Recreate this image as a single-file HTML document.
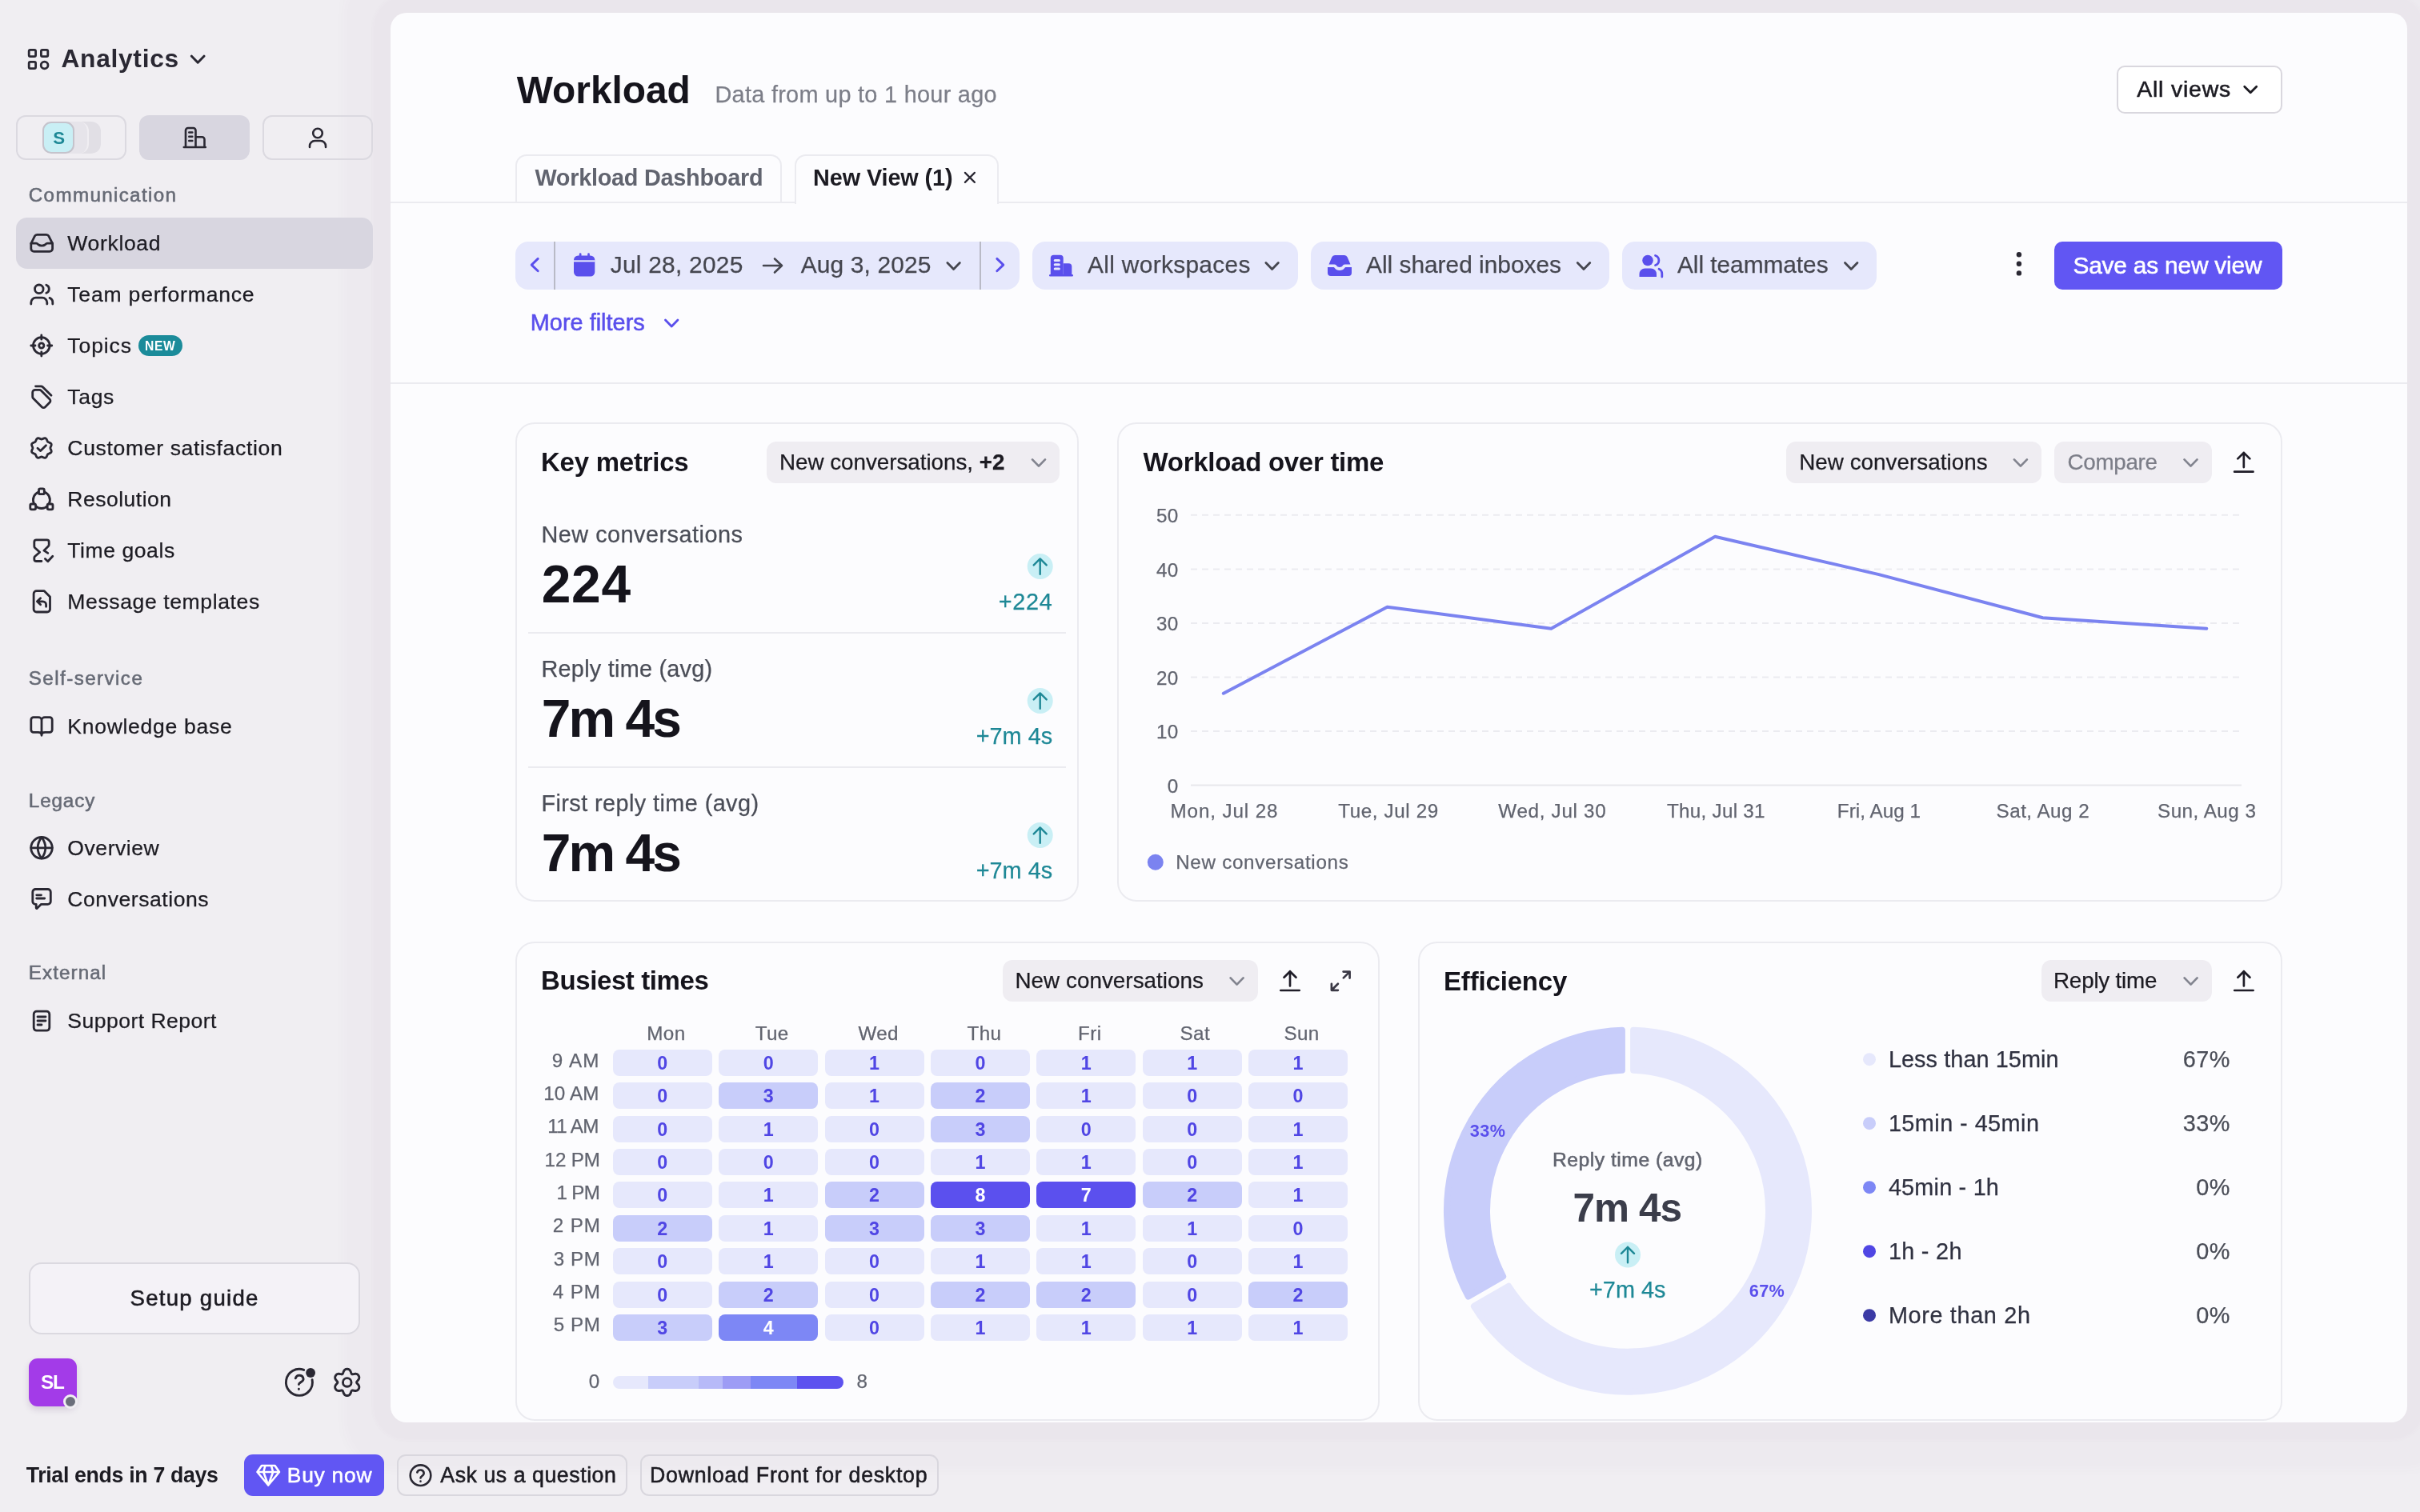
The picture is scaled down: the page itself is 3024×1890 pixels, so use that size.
<!DOCTYPE html>
<html lang="en"><head><meta charset="utf-8"><title>Workload - Analytics</title>
<style>
*{box-sizing:border-box;margin:0;padding:0}
html,body{width:3024px;height:1890px;overflow:hidden}
body{background:#f0eef2;font-family:"Liberation Sans",sans-serif;color:#1c1b22;position:relative}
.root{position:absolute;left:0;top:0;width:3024px;height:1890px;will-change:transform}
.a{position:absolute}
.t{position:absolute;white-space:nowrap}
.main{left:488px;top:16px;width:2520px;height:1761.7px;background:#fcfcfe;border-radius:20px;box-shadow:0 0 5px 23px rgba(80,75,100,.02),0 0 14px 60px rgba(80,75,100,.018)}
.card{border:2px solid #ebebf0;border-radius:24px;background:#fcfcfe}
.dd{background:#efedf2;border-radius:12px}
.pill{background:#e6e8fc;border-radius:16px}
.hl{background:#ebebf0;height:2px}
.cell{position:absolute;width:124px;height:33px;border-radius:8px;text-align:center;font-weight:700;font-size:23.3px;line-height:34px;color:#5046e4}
.c0{background:#e6e8fc}.c2{background:#c8cdfa}.c4{background:#7d87f5;color:#fff}.c8{background:#5b50ee;color:#fff}
svg{position:absolute;overflow:visible}
</style></head>
<body>
<div class="root">

<div class="a main"></div>
<!-- sidebar -->
<div class="a" style="left:20px;top:144px;width:138px;height:55.5px;border:2px solid #dbd9e0;border-radius:12px"></div>
<div class="a" style="left:174px;top:144px;width:138px;height:55.5px;background:#d8d6e0;border-radius:12px"></div>
<div class="a" style="left:328px;top:144px;width:138px;height:55.5px;border:2px solid #dbd9e0;border-radius:12px"></div>
<div class="a" style="left:86px;top:152px;width:40px;height:40px;background:#e1dfe5;border-radius:12px"></div>
<div class="a" style="left:68px;top:152px;width:43px;height:40px;background:#e6e4ea;border-radius:12px;border-right:2px solid #f0eef2"></div>
<div class="a" style="left:53px;top:152px;width:40px;height:40px;background:#c9eff5;border:2px solid #c5c3cc;border-radius:11px"></div>
<div class="a" style="left:20px;top:272px;width:446px;height:64px;background:#d8d6e0;border-radius:14px"></div>
<div class="a" style="left:173px;top:419px;width:55px;height:26px;background:#1b8b9a;border-radius:13px"></div>
<div class="a" style="left:36px;top:1578px;width:413.5px;height:89.5px;border:2px solid #dbd9e0;border-radius:16px;background:#f4f2f7"></div>
<div class="a" style="left:36px;top:1698px;width:60px;height:60px;background:#a33be8;border-radius:11px;box-shadow:0 4px 8px rgba(60,20,90,.15)"></div>
<div class="a" style="left:79px;top:1743px;width:18px;height:18px;background:#6b6e7b;border:3px solid #f0eef2;border-radius:50%"></div>
<!-- bottom bar -->
<div class="a" style="left:305px;top:1818.3px;width:175px;height:51.8px;background:#6156f3;border-radius:11px"></div>
<div class="a" style="left:496px;top:1818.3px;width:288px;height:51.8px;border:2px solid #d9d7de;border-radius:11px"></div>
<div class="a" style="left:800px;top:1818.3px;width:373px;height:51.8px;border:2px solid #d9d7de;border-radius:11px"></div>
<!-- header -->
<div class="a" style="left:2645px;top:82px;width:207px;height:60px;border:2px solid #d9d7de;border-radius:10px;background:#fff"></div>
<div class="a hl" style="left:488px;top:252px;width:2520px"></div>
<div class="a" style="left:644px;top:192.5px;width:333px;height:61.5px;border:2px solid #ebebf0;border-bottom:none;border-radius:14px 14px 0 0"></div>
<div class="a" style="left:993px;top:192.5px;width:255px;height:62.5px;border:2px solid #ebebf0;border-bottom:none;border-radius:14px 14px 0 0;background:#fcfcfe"></div>
<div class="a pill" style="left:644px;top:302px;width:630px;height:60px"></div>
<div class="a" style="left:692px;top:302px;width:2px;height:60px;background:#b9bac6"></div>
<div class="a" style="left:1224px;top:302px;width:2px;height:60px;background:#b9bac6"></div>
<div class="a pill" style="left:1290px;top:302px;width:332px;height:60px"></div>
<div class="a pill" style="left:1638px;top:302px;width:373px;height:60px"></div>
<div class="a pill" style="left:2027px;top:302px;width:318px;height:60px"></div>
<div class="a" style="left:2567px;top:302px;width:285px;height:60px;background:#6156f3;border-radius:10px"></div>
<div class="a hl" style="left:488px;top:478px;width:2520px"></div>
<!-- cards -->
<div class="a card" style="left:644px;top:528px;width:704px;height:599px"></div>
<div class="a dd" style="left:958px;top:552px;width:366px;height:52px"></div>
<div class="a hl" style="left:660px;top:790px;width:672px"></div>
<div class="a hl" style="left:660px;top:958px;width:672px"></div>
<div class="a card" style="left:1396px;top:528px;width:1456px;height:599px"></div>
<div class="a dd" style="left:2232px;top:552px;width:319px;height:52px"></div>
<div class="a dd" style="left:2567px;top:552px;width:197px;height:52px"></div>
<div class="a card" style="left:644px;top:1176.5px;width:1080px;height:599px"></div>
<div class="a dd" style="left:1253px;top:1200px;width:319px;height:52px"></div>
<div class="a card" style="left:1772px;top:1176.5px;width:1080px;height:599px"></div>
<div class="a dd" style="left:2551px;top:1200px;width:213px;height:52px"></div>

<svg class="a" style="left:0;top:0" width="3024" height="1890" viewBox="0 0 3024 1890">
<line x1="1488" x2="2801" y1="643.8" y2="643.8" stroke="#ebebf0" stroke-width="2" stroke-dasharray="8 6"/>
<line x1="1488" x2="2801" y1="711.4" y2="711.4" stroke="#ebebf0" stroke-width="2" stroke-dasharray="8 6"/>
<line x1="1488" x2="2801" y1="778.9" y2="778.9" stroke="#ebebf0" stroke-width="2" stroke-dasharray="8 6"/>
<line x1="1488" x2="2801" y1="846.5" y2="846.5" stroke="#ebebf0" stroke-width="2" stroke-dasharray="8 6"/>
<line x1="1488" x2="2801" y1="914.0" y2="914.0" stroke="#ebebf0" stroke-width="2" stroke-dasharray="8 6"/>
<line x1="1488" x2="2801" y1="981.6" y2="981.6" stroke="#e7e7ec" stroke-width="2"/>
<polyline points="1528.8,866.7 1733.5,758.7 1938.3,785.7 2143.1,670.8 2347.8,718.1 2552.6,772.2 2757.3,785.7" fill="none" stroke="#7b83f0" stroke-width="4" stroke-linejoin="round" stroke-linecap="round"/>
<circle cx="1443.8" cy="1077.7" r="10" fill="#7b83f0"/>
</svg>
<svg class="a" style="left:0;top:0" width="3024" height="1890" viewBox="0 0 3024 1890">
<path d="M2041.1 1287.8A226.0 226.0 0 1 1 1841.9 1632.8L1885.3 1607.8A176.0 176.0 0 1 0 2041.1 1337.8Z" fill="#e6e8fc" stroke="#e6e8fc" stroke-width="8" stroke-linejoin="round"/>
<path d="M1834.8 1620.5A226.0 226.0 0 0 1 2026.9 1287.8L2026.9 1337.8A176.0 176.0 0 0 0 1878.2 1595.5Z" fill="#c8cdfa" stroke="#c8cdfa" stroke-width="8" stroke-linejoin="round"/>
<circle cx="2336" cy="1324.2" r="8" fill="#e6e8fc"/>
<circle cx="2336" cy="1404.2" r="8" fill="#c8cdfa"/>
<circle cx="2336" cy="1484.2" r="8" fill="#7d87f5"/>
<circle cx="2336" cy="1564.2" r="8" fill="#5046e4"/>
<circle cx="2336" cy="1644.2" r="8" fill="#3b3aa5"/>
</svg>
<div class="cell c0" style="left:765.8px;top:1312.0px">0</div>
<div class="cell c0" style="left:898.2px;top:1312.0px">0</div>
<div class="cell c0" style="left:1030.5px;top:1312.0px">1</div>
<div class="cell c0" style="left:1162.9px;top:1312.0px">0</div>
<div class="cell c0" style="left:1295.3px;top:1312.0px">1</div>
<div class="cell c0" style="left:1427.7px;top:1312.0px">1</div>
<div class="cell c0" style="left:1560.0px;top:1312.0px">1</div>
<div class="cell c0" style="left:765.8px;top:1353.4px">0</div>
<div class="cell c2" style="left:898.2px;top:1353.4px">3</div>
<div class="cell c0" style="left:1030.5px;top:1353.4px">1</div>
<div class="cell c2" style="left:1162.9px;top:1353.4px">2</div>
<div class="cell c0" style="left:1295.3px;top:1353.4px">1</div>
<div class="cell c0" style="left:1427.7px;top:1353.4px">0</div>
<div class="cell c0" style="left:1560.0px;top:1353.4px">0</div>
<div class="cell c0" style="left:765.8px;top:1394.7px">0</div>
<div class="cell c0" style="left:898.2px;top:1394.7px">1</div>
<div class="cell c0" style="left:1030.5px;top:1394.7px">0</div>
<div class="cell c2" style="left:1162.9px;top:1394.7px">3</div>
<div class="cell c0" style="left:1295.3px;top:1394.7px">0</div>
<div class="cell c0" style="left:1427.7px;top:1394.7px">0</div>
<div class="cell c0" style="left:1560.0px;top:1394.7px">1</div>
<div class="cell c0" style="left:765.8px;top:1436.1px">0</div>
<div class="cell c0" style="left:898.2px;top:1436.1px">0</div>
<div class="cell c0" style="left:1030.5px;top:1436.1px">0</div>
<div class="cell c0" style="left:1162.9px;top:1436.1px">1</div>
<div class="cell c0" style="left:1295.3px;top:1436.1px">1</div>
<div class="cell c0" style="left:1427.7px;top:1436.1px">0</div>
<div class="cell c0" style="left:1560.0px;top:1436.1px">1</div>
<div class="cell c0" style="left:765.8px;top:1477.4px">0</div>
<div class="cell c0" style="left:898.2px;top:1477.4px">1</div>
<div class="cell c2" style="left:1030.5px;top:1477.4px">2</div>
<div class="cell c8" style="left:1162.9px;top:1477.4px">8</div>
<div class="cell c8" style="left:1295.3px;top:1477.4px">7</div>
<div class="cell c2" style="left:1427.7px;top:1477.4px">2</div>
<div class="cell c0" style="left:1560.0px;top:1477.4px">1</div>
<div class="cell c2" style="left:765.8px;top:1518.8px">2</div>
<div class="cell c0" style="left:898.2px;top:1518.8px">1</div>
<div class="cell c2" style="left:1030.5px;top:1518.8px">3</div>
<div class="cell c2" style="left:1162.9px;top:1518.8px">3</div>
<div class="cell c0" style="left:1295.3px;top:1518.8px">1</div>
<div class="cell c0" style="left:1427.7px;top:1518.8px">1</div>
<div class="cell c0" style="left:1560.0px;top:1518.8px">0</div>
<div class="cell c0" style="left:765.8px;top:1560.2px">0</div>
<div class="cell c0" style="left:898.2px;top:1560.2px">1</div>
<div class="cell c0" style="left:1030.5px;top:1560.2px">0</div>
<div class="cell c0" style="left:1162.9px;top:1560.2px">1</div>
<div class="cell c0" style="left:1295.3px;top:1560.2px">1</div>
<div class="cell c0" style="left:1427.7px;top:1560.2px">0</div>
<div class="cell c0" style="left:1560.0px;top:1560.2px">1</div>
<div class="cell c0" style="left:765.8px;top:1601.5px">0</div>
<div class="cell c2" style="left:898.2px;top:1601.5px">2</div>
<div class="cell c0" style="left:1030.5px;top:1601.5px">0</div>
<div class="cell c2" style="left:1162.9px;top:1601.5px">2</div>
<div class="cell c2" style="left:1295.3px;top:1601.5px">2</div>
<div class="cell c0" style="left:1427.7px;top:1601.5px">0</div>
<div class="cell c2" style="left:1560.0px;top:1601.5px">2</div>
<div class="cell c2" style="left:765.8px;top:1642.9px">3</div>
<div class="cell c4" style="left:898.2px;top:1642.9px">4</div>
<div class="cell c0" style="left:1030.5px;top:1642.9px">0</div>
<div class="cell c0" style="left:1162.9px;top:1642.9px">1</div>
<div class="cell c0" style="left:1295.3px;top:1642.9px">1</div>
<div class="cell c0" style="left:1427.7px;top:1642.9px">1</div>
<div class="cell c0" style="left:1560.0px;top:1642.9px">1</div>
<div class="a" style="left:766px;top:1720px;width:288px;height:16px;border-radius:8px;background:linear-gradient(90deg,#e6e8fc 0 15.3%,#c8cdfa 15.3% 37%,#b7baf8 37% 47.4%,#9d9cf5 47.4% 59.8%,#7d87f5 59.8% 80%,#5d52ef 80% 100%)"></div>
<svg class="a" style="left:0;top:0" width="3024" height="1890" viewBox="0 0 3024 1890"><g fill="none" stroke="#2a2833" stroke-width="2.8" stroke-linecap="round" stroke-linejoin="round" ><rect x="36.2" y="62.3" width="8.4" height="8.4" rx="1.6"/><rect x="51.4" y="62.3" width="8.4" height="8.4" rx="1.6"/><rect x="36.2" y="77.3" width="8.4" height="8.4" rx="1.6"/><circle cx="55.6" cy="81.5" r="4.4"/></g>
<path d="M239.45 70.2L247.2 78.2L254.95 70.2" fill="none" stroke="#2a2833" stroke-width="3" stroke-linecap="round" stroke-linejoin="round" />
<g fill="none" stroke="#2a2833" stroke-width="2.6" stroke-linecap="round" stroke-linejoin="round" ><path d="M232 184V163a3 3 0 0 1 3-3h6.5a3 3 0 0 1 3 3v21M244.5 171.2h8a3 3 0 0 1 3 3V184M229.8 184h27M236.3 165.5h4M236.3 170.8h4M236.3 176h4"/></g>
<g fill="none" stroke="#2a2833" stroke-width="2.6" stroke-linecap="round" stroke-linejoin="round" ><circle cx="397" cy="166.5" r="5.8"/><path d="M387 184v-1.5a6.5 6.5 0 0 1 6.5-6.5h7a6.5 6.5 0 0 1 6.5 6.5V184"/></g>
<g fill="none" stroke="#2a2833" stroke-width="2.8" stroke-linecap="round" stroke-linejoin="round" ><path d="M38.8 304.5l4.6-9.3a3.4 3.4 0 0 1 3-1.9h11.5a3.4 3.4 0 0 1 3 1.9l4.7 9.3v6.2a3.6 3.6 0 0 1-3.6 3.6H42.4a3.6 3.6 0 0 1-3.6-3.6z"/><path d="M38.8 304.2h6.4c1.3 0 1.8 .6 2.6 1.4 1 .9 2 1.5 4.4 1.5s3.400-.6 4.400-1.500c.8-.8 1.300-1.400 2.600-1.400h6.400"/></g>
<g fill="none" stroke="#2a2833" stroke-width="2.8" stroke-linecap="round" stroke-linejoin="round" ><circle cx="48.8" cy="361.3" r="5.3"/><path d="M38.8 380v-1.8a6 6 0 0 1 6-6h8a6 6 0 0 1 6 6V380"/><path d="M57.8 356.300a5.300 5.300 0 0 1 0 10M62 372.400a6 6 0 0 1 3.800 5.600V380"/></g>
<g fill="none" stroke="#2a2833" stroke-width="2.8" stroke-linecap="round" stroke-linejoin="round" ><circle cx="51.800" cy="432" r="10.3"/><circle cx="51.800" cy="432" r="3.100"/><path d="M51.800 419v5.200M51.800 439.800v5.200M38.800 432h5.200M59.600 432h5.200"/></g>
<g fill="none" stroke="#2a2833" stroke-width="2.8" stroke-linecap="round" stroke-linejoin="round" ><g transform="translate(0.4 2.2)"><path d="M40.300 488.300v5.400a3 3 0 0 0 .9 2.100l10.700 10.700a3 3 0 0 0 4.200 0l5.600-5.600a3 3 0 0 0 0-4.200L51 486a3 3 0 0 0-2.100-.9h-5.400a3.200 3.200 0 0 0-3.200 3.200z"/></g><path d="M44.500 482.800h6.800a3 3 0 0 1 2.100 .9l10.600 10.600"/></g>
<g fill="none" stroke="#2a2833" stroke-width="2.8" stroke-linecap="round" stroke-linejoin="round" ><path d="M62.9 560.0L63.0 560.6L63.2 561.2L63.5 561.8L63.8 562.5L64.1 563.3L64.2 564.0L64.2 564.7L63.9 565.3L63.4 565.9L62.8 566.3L62.1 566.6L61.4 566.9L60.8 567.2L60.2 567.5L59.7 567.8L59.4 568.3L59.1 568.9L58.8 569.5L58.5 570.2L58.2 570.9L57.8 571.5L57.2 572.0L56.6 572.3L55.9 572.3L55.2 572.2L54.4 571.9L53.7 571.6L53.1 571.3L52.5 571.1L51.9 571.0L51.3 571.1L50.7 571.3L50.1 571.6L49.4 571.9L48.6 572.2L47.9 572.3L47.2 572.3L46.6 572.0L46.0 571.5L45.6 570.9L45.3 570.2L45.0 569.5L44.7 568.9L44.4 568.3L44.1 567.8L43.6 567.5L43.0 567.2L42.4 566.9L41.7 566.6L41.0 566.3L40.4 565.9L39.9 565.3L39.6 564.7L39.6 564.0L39.7 563.3L40.0 562.5L40.3 561.8L40.6 561.2L40.8 560.6L40.9 560.0L40.8 559.4L40.6 558.8L40.3 558.2L40.0 557.5L39.7 556.7L39.6 556.0L39.6 555.3L39.9 554.7L40.4 554.1L41.0 553.7L41.7 553.4L42.4 553.1L43.0 552.8L43.6 552.5L44.1 552.2L44.4 551.7L44.7 551.1L45.0 550.5L45.3 549.8L45.6 549.1L46.0 548.5L46.6 548.0L47.2 547.7L47.9 547.7L48.6 547.8L49.4 548.1L50.1 548.4L50.7 548.7L51.3 548.9L51.9 549.0L52.5 548.9L53.1 548.7L53.7 548.4L54.4 548.1L55.2 547.8L55.9 547.7L56.6 547.7L57.2 548.0L57.8 548.5L58.2 549.1L58.5 549.8L58.8 550.5L59.1 551.1L59.4 551.7L59.7 552.2L60.2 552.5L60.8 552.8L61.4 553.1L62.1 553.4L62.8 553.7L63.4 554.1L63.9 554.7L64.2 555.3L64.2 556.0L64.1 556.7L63.8 557.5L63.5 558.2L63.2 558.8L63.0 559.4Z"/><path d="M47 560.3l3.700 3.300 6.800-6.900"/></g>
<g fill="none" stroke="#2a2833" stroke-width="2.8" stroke-linecap="round" stroke-linejoin="round" ><circle cx="51.9" cy="625" r="10.5"/><g fill="#f0eef2"><rect x="48.5" y="610.9" width="6.8" height="6.8" rx="1.8"/><rect x="37.8" y="630" width="6.8" height="6.8" rx="1.8"/><rect x="59.2" y="630" width="6.8" height="6.8" rx="1.8"/></g></g>
<g fill="none" stroke="#2a2833" stroke-width="2.8" stroke-linecap="round" stroke-linejoin="round" ><path d="M51.9 701.5H45.400a2.600 2.600 0 0 1-2.600-2.600v-1.600a2.600 2.600 0 0 1 .8-1.800l6.100-5.300-6.100-5.500a2.600 2.600 0 0 1-.8-1.800V677.400a2.600 2.600 0 0 1 2.600-2.600H58.600a2.600 2.600 0 0 1 2.600 2.600v3.500a2.600 2.600 0 0 1-.8 1.800l-5.500 5.500 4.900 3.200"/><path d="M56.400 698.500l3.400 3.200 6-6.500"/></g>
<g fill="none" stroke="#2a2833" stroke-width="2.8" stroke-linecap="round" stroke-linejoin="round" ><path d="M42.100 742.300a3.600 3.600 0 0 1 3.600-3.600h9.600l7.200 7.200v15.500a3.600 3.600 0 0 1-3.600 3.600H45.700a3.600 3.600 0 0 1-3.600-3.600z"/><path d="M50.600 747.800l-4.200 4 4.200 4M46.600 751.800h6.800a4.200 4.200 0 0 1 4.200 4.200v2.300"/></g>
<g fill="none" stroke="#2a2833" stroke-width="2.8" stroke-linecap="round" stroke-linejoin="round" ><path d="M52 900.500v18.800M52 900.500c0-2.200-1.800-3.800-4-3.800h-6.200a3 3 0 0 0-3 3v12.600a3 3 0 0 0 3 3h6c2.300 0 4.200 1.300 4.200 3.200 0-1.900 1.900-3.200 4.200-3.200h6a3 3 0 0 0 3-3v-12.600a3 3 0 0 0-3-3H56c-2.200 0-4 1.600-4 3.800z"/></g>
<g fill="none" stroke="#2a2833" stroke-width="2.8" stroke-linecap="round" stroke-linejoin="round" ><circle cx="52" cy="1059.800" r="13.300"/><path d="M38.800 1059.800h26.400M52 1046.600c-6.400 8.200-6.400 18.200 0 26.400M52 1046.600c6.400 8.200 6.400 18.200 0 26.400"/></g>
<g fill="none" stroke="#2a2833" stroke-width="2.8" stroke-linecap="round" stroke-linejoin="round" ><path d="M40.800 1115.100a3.600 3.600 0 0 1 3.600-3.600h15.300a3.600 3.600 0 0 1 3.600 3.600v11.600a3.600 3.600 0 0 1-3.600 3.600H51.500l-5.300 5.100c-.4 .4-1 .1-1-.4V1130.300h-.8a3.600 3.600 0 0 1-3.600-3.600z"/><path d="M45.700 1118.800h5.800M45.700 1123h10"/></g>
<g fill="none" stroke="#2a2833" stroke-width="2.8" stroke-linecap="round" stroke-linejoin="round" ><rect x="42.200" y="1264.200" width="19.600" height="24" rx="3.600"/><path d="M47 1271h10M47 1276h10M47 1281h5"/></g>
<g fill="none" stroke="#2a2833" stroke-width="2.9" stroke-linecap="round" stroke-linejoin="round" ><path d="M390.1 1724.6A16.5 16.5 0 1 1 379.7 1712.4"/><path d="M369.300 1722.800a5 5 0 0 1 9.800 1.100c0 3.300-5.700 4.300-5.700 6.600M373.400 1736.300v.2"/></g><circle cx="388.100" cy="1716" r="5.900" fill="#2a2833"/>
<g fill="none" stroke="#2a2833" stroke-width="2.9" stroke-linecap="round" stroke-linejoin="round" ><path d="M445.6 1727.9L445.7 1728.4L446.0 1729.0L446.6 1729.6L447.2 1730.3L447.8 1731.0L448.3 1731.8L448.6 1732.6L448.8 1733.4L448.8 1734.1L448.7 1734.9L448.5 1735.6L448.1 1736.2L447.7 1736.8L447.3 1737.4L446.7 1737.8L446.0 1738.2L445.3 1738.4L444.4 1738.5L443.5 1738.5L442.5 1738.3L441.6 1738.2L440.8 1738.0L440.2 1738.0L439.6 1738.1L439.3 1738.5L439.0 1739.1L438.7 1739.8L438.4 1740.7L438.1 1741.6L437.6 1742.4L437.1 1743.1L436.5 1743.7L435.9 1744.1L435.2 1744.3L434.5 1744.5L433.8 1744.5L433.0 1744.5L432.3 1744.3L431.6 1744.1L431.0 1743.7L430.4 1743.1L429.9 1742.4L429.4 1741.6L429.1 1740.7L428.8 1739.8L428.5 1739.1L428.2 1738.5L427.9 1738.1L427.3 1738.0L426.7 1738.0L425.9 1738.2L425.0 1738.3L424.0 1738.5L423.1 1738.5L422.2 1738.4L421.5 1738.2L420.8 1737.8L420.2 1737.4L419.8 1736.8L419.4 1736.2L419.0 1735.6L418.8 1734.9L418.7 1734.1L418.7 1733.4L418.9 1732.6L419.2 1731.8L419.7 1731.0L420.3 1730.3L420.9 1729.6L421.5 1729.0L421.8 1728.4L421.9 1727.9L421.8 1727.4L421.5 1726.8L420.9 1726.2L420.3 1725.5L419.7 1724.8L419.2 1724.0L418.9 1723.2L418.7 1722.4L418.7 1721.7L418.8 1720.9L419.0 1720.2L419.4 1719.6L419.8 1719.0L420.2 1718.4L420.8 1718.0L421.5 1717.6L422.2 1717.4L423.1 1717.3L424.0 1717.3L425.0 1717.5L425.9 1717.6L426.7 1717.8L427.3 1717.8L427.9 1717.7L428.2 1717.3L428.5 1716.7L428.8 1716.0L429.1 1715.1L429.4 1714.2L429.9 1713.4L430.4 1712.7L431.0 1712.1L431.6 1711.7L432.3 1711.5L433.0 1711.3L433.8 1711.3L434.5 1711.3L435.2 1711.5L435.9 1711.7L436.5 1712.1L437.1 1712.7L437.6 1713.4L438.1 1714.2L438.4 1715.1L438.7 1716.0L439.0 1716.7L439.3 1717.3L439.6 1717.7L440.2 1717.8L440.8 1717.8L441.6 1717.6L442.5 1717.5L443.5 1717.3L444.4 1717.3L445.3 1717.4L446.0 1717.6L446.7 1718.0L447.3 1718.4L447.7 1719.0L448.1 1719.6L448.5 1720.2L448.7 1720.9L448.8 1721.7L448.8 1722.4L448.6 1723.2L448.3 1724.0L447.8 1724.8L447.2 1725.5L446.6 1726.2L446.0 1726.8L445.7 1727.4Z"/><circle cx="433.750" cy="1727.900" r="5.300"/></g>
<g fill="none" stroke="#fff" stroke-width="2.6" stroke-linecap="round" stroke-linejoin="round" ><path d="M327 1832h16.500l5.500 8-13.800 16.500-13.700-16.500zM321.500 1840h27.500M331.500 1832l-2.300 8 6 16.500 6-16.500-2.300-8"/></g>
<g fill="none" stroke="#2a2833" stroke-width="2.6" stroke-linecap="round" stroke-linejoin="round" ><circle cx="525.500" cy="1844.200" r="12.800"/><path d="M521.300 1840.500a4.300 4.300 0 0 1 8.400 1.200c0 2.800-4.200 3.600-4.200 5.800M525.500 1851.500v.2"/></g>
<path d="M1205.900 215.900l12 12M1217.900 215.900l-12 12" fill="none" stroke="#2a2833" stroke-width="2.2" stroke-linecap="round" stroke-linejoin="round" />
<path d="M2804.7 108.25L2812.2 115.75L2819.7 108.25" fill="none" stroke="#1c1b22" stroke-width="2.8" stroke-linecap="round" stroke-linejoin="round" />
<path d="M672.200 323.400l-8 7.700 8 7.700" fill="none" stroke="#5a4fec" stroke-width="2.9" stroke-linecap="round" stroke-linejoin="round" />
<path d="M1245.800 323.400l8 7.700-8 7.700" fill="none" stroke="#5a4fec" stroke-width="2.9" stroke-linecap="round" stroke-linejoin="round" />
<g fill="#5a4fec"><rect x="717" y="319.500" width="26.300" height="26" rx="5.500"/><rect x="723.800" y="316.300" width="2.700" height="8" rx="1.350"/><rect x="734.200" y="316.300" width="2.700" height="8" rx="1.350"/></g><rect x="717" y="325.300" width="26.500" height="2" fill="#e6e8fc"/>
<path d="M954 332h23M968 323.500l9 8.500-9 8.500" fill="none" stroke="#45464f" stroke-width="2.6" stroke-linecap="round" stroke-linejoin="round" />
<path d="M1183.85 328.5L1191.6 336.5L1199.35 328.5" fill="none" stroke="#45464f" stroke-width="2.8" stroke-linecap="round" stroke-linejoin="round" />
<g fill="#5a4fec"><path d="M1312.800 344V322.700a4 4 0 0 1 4-4h7.900a4 4 0 0 1 4 4V344z"/><path d="M1328.700 329.200h6.600a4 4 0 0 1 4 4V344h-10.600z"/><rect x="1311" y="342.900" width="30" height="2.600" rx="1.300"/></g><path d="M1318.200 325.400h5.200M1318.200 330.700h5.200M1318.200 336.100h5.200" fill="none" stroke="#e6e8fc" stroke-width="3" stroke-linecap="round" stroke-linejoin="round" />
<path d="M1581.85 328.5L1589.6 336.5L1597.35 328.5" fill="none" stroke="#45464f" stroke-width="2.8" stroke-linecap="round" stroke-linejoin="round" />
<g fill="#5a4fec"><path d="M1660.500 330.500l3.800-9a4 4 0 0 1 3.700-2.500h12a4 4 0 0 1 3.700 2.500l3.800 9h-7c-1.500 0-2 .8-2.800 1.800-.8 1-1.800 1.700-3.700 1.700s-2.900-.7-3.700-1.700c-.8-1-1.300-1.800-2.800-1.800z"/><path d="M1659 334h7c1 0 1.500 .5 2.200 1.500 1.100 1.500 2.800 2.500 5.800 2.500s4.700-1 5.800-2.500c.7-1 1.200-1.500 2.200-1.500h7v7a4 4 0 0 1-4 4h-22a4 4 0 0 1-4-4z"/></g>
<path d="M1971.25 328.5L1979 336.5L1986.75 328.5" fill="none" stroke="#45464f" stroke-width="2.8" stroke-linecap="round" stroke-linejoin="round" />
<g fill="#5a4fec"><circle cx="2059" cy="325.500" r="6.800"/><path d="M2048.500 346v-3.500a7 7 0 0 1 7-7h7.500a7 7 0 0 1 7 7V346z"/></g><path d="M2068.500 319.500a6.300 6.300 0 0 1 0 12M2073 336.300a6.500 6.500 0 0 1 3.800 6V346" fill="none" stroke="#5a4fec" stroke-width="2.8" stroke-linecap="round" stroke-linejoin="round" />
<path d="M2305.45 328.5L2313.2 336.5L2320.95 328.5" fill="none" stroke="#45464f" stroke-width="2.8" stroke-linecap="round" stroke-linejoin="round" />
<g fill="#2a2833"><circle cx="2522.900" cy="318.200" r="3.200"/><circle cx="2522.900" cy="329.800" r="3.200"/><circle cx="2522.900" cy="341.400" r="3.200"/></g>
<path d="M831.45 400.0L839.2 408.0L846.95 400.0" fill="none" stroke="#5a4fec" stroke-width="2.8" stroke-linecap="round" stroke-linejoin="round" />
<path d="M1290.0 574.35L1298 582.65L1306.0 574.35" fill="none" stroke="#82848f" stroke-width="2.7" stroke-linecap="round" stroke-linejoin="round" />
<circle cx="1299.7" cy="708" r="16" fill="#c9eff5"/><path d="M1299.7 717.8V698.4M1291.7 706.4L1299.7 698.4L1307.7 706.4" fill="none" stroke="#1e8896" stroke-width="2.4" stroke-linecap="round" stroke-linejoin="round" />
<circle cx="1299.7" cy="876" r="16" fill="#c9eff5"/><path d="M1299.7 885.8V866.4M1291.7 874.4L1299.7 866.4L1307.7 874.4" fill="none" stroke="#1e8896" stroke-width="2.4" stroke-linecap="round" stroke-linejoin="round" />
<circle cx="1299.7" cy="1044" r="16" fill="#c9eff5"/><path d="M1299.7 1053.8V1034.4M1291.7 1042.4L1299.7 1034.4L1307.7 1042.4" fill="none" stroke="#1e8896" stroke-width="2.4" stroke-linecap="round" stroke-linejoin="round" />
<path d="M2516.9 574.35L2524.9 582.65L2532.9 574.35" fill="none" stroke="#82848f" stroke-width="2.7" stroke-linecap="round" stroke-linejoin="round" />
<path d="M2729.5 574.35L2737.5 582.65L2745.5 574.35" fill="none" stroke="#82848f" stroke-width="2.7" stroke-linecap="round" stroke-linejoin="round" />
<path d="M2803.8 584.1V565.9000000000001M2796.3 573.4000000000001L2803.8 565.9000000000001L2811.3 573.4000000000001M2792.1000000000004 589.7H2815.5" fill="none" stroke="#1f1d28" stroke-width="2.7" stroke-linecap="round" stroke-linejoin="round" />
<path d="M1537.6 1222.35L1545.6 1230.65L1553.6 1222.35" fill="none" stroke="#82848f" stroke-width="2.7" stroke-linecap="round" stroke-linejoin="round" />
<path d="M1612 1232.4V1214.2M1604.5 1221.7L1612 1214.2L1619.5 1221.7M1600.3 1238.0H1623.7" fill="none" stroke="#1f1d28" stroke-width="2.7" stroke-linecap="round" stroke-linejoin="round" />
<path d="M1663.900 1237.800L1671.900 1229.800M1678.800 1222.400L1686.600 1214.600M1678.600 1214.600h8v8M1671.900 1237.800h-8v-8" fill="none" stroke="#3a3845" stroke-width="2.7" stroke-linecap="round" stroke-linejoin="round" />
<path d="M2729.6 1222.35L2737.6 1230.65L2745.6 1222.35" fill="none" stroke="#82848f" stroke-width="2.7" stroke-linecap="round" stroke-linejoin="round" />
<path d="M2803.9 1232.4V1214.2M2796.4 1221.7L2803.9 1214.2L2811.4 1221.7M2792.2000000000003 1238.0H2815.6" fill="none" stroke="#1f1d28" stroke-width="2.7" stroke-linecap="round" stroke-linejoin="round" />
<circle cx="2034" cy="1568.4" r="16" fill="#c9eff5"/><path d="M2034 1578.2V1558.8000000000002M2026 1566.8000000000002L2034 1558.8000000000002L2042 1566.8000000000002" fill="none" stroke="#1e8896" stroke-width="2.4" stroke-linecap="round" stroke-linejoin="round" /></svg>
<div class="t" style="left:76.5px;top:53.3px;font-size:31.72px;line-height:41px;font-weight:700;color:#2a2833;letter-spacing:0.70px;">Analytics</div>
<div class="t" style="left:66.3px;top:157.7px;font-size:22.25px;line-height:29px;font-weight:700;color:#1e8896;">S</div>
<div class="t" style="left:35.8px;top:228.0px;font-size:24.21px;line-height:31px;color:#666a75;letter-spacing:1.33px;-webkit-text-stroke:.55px;">Communication</div>
<div class="t" style="left:84.3px;top:287.0px;font-size:26.57px;line-height:35px;color:#1c1b22;letter-spacing:0.65px;-webkit-text-stroke:.25px;">Workload</div>
<div class="t" style="left:84.3px;top:351.0px;font-size:26.57px;line-height:35px;color:#1c1b22;letter-spacing:0.79px;-webkit-text-stroke:.25px;">Team performance</div>
<div class="t" style="left:84.3px;top:415.0px;font-size:26.57px;line-height:35px;color:#1c1b22;letter-spacing:0.90px;-webkit-text-stroke:.25px;">Topics</div>
<div class="t" style="left:84.3px;top:479.0px;font-size:26.57px;line-height:35px;color:#1c1b22;letter-spacing:0.66px;-webkit-text-stroke:.25px;">Tags</div>
<div class="t" style="left:84.3px;top:543.0px;font-size:26.57px;line-height:35px;color:#1c1b22;letter-spacing:0.65px;-webkit-text-stroke:.25px;">Customer satisfaction</div>
<div class="t" style="left:84.3px;top:607.0px;font-size:26.57px;line-height:35px;color:#1c1b22;letter-spacing:0.47px;-webkit-text-stroke:.25px;">Resolution</div>
<div class="t" style="left:84.3px;top:671.0px;font-size:26.57px;line-height:35px;color:#1c1b22;letter-spacing:0.55px;-webkit-text-stroke:.25px;">Time goals</div>
<div class="t" style="left:84.3px;top:735.0px;font-size:26.57px;line-height:35px;color:#1c1b22;letter-spacing:0.60px;-webkit-text-stroke:.25px;">Message templates</div>
<div class="t" style="left:84.3px;top:890.6px;font-size:26.57px;line-height:35px;color:#1c1b22;letter-spacing:0.69px;-webkit-text-stroke:.25px;">Knowledge base</div>
<div class="t" style="left:84.3px;top:1042.8px;font-size:26.57px;line-height:35px;color:#1c1b22;letter-spacing:0.54px;-webkit-text-stroke:.25px;">Overview</div>
<div class="t" style="left:84.3px;top:1106.6px;font-size:26.57px;line-height:35px;color:#1c1b22;letter-spacing:0.54px;-webkit-text-stroke:.25px;">Conversations</div>
<div class="t" style="left:84.3px;top:1258.8px;font-size:26.57px;line-height:35px;color:#1c1b22;letter-spacing:0.46px;-webkit-text-stroke:.25px;">Support Report</div>
<div class="t" style="left:181.1px;top:422.9px;font-size:15.66px;line-height:20px;font-weight:700;color:#fff;letter-spacing:0.63px;">NEW</div>
<div class="t" style="left:35.8px;top:831.8px;font-size:24.21px;line-height:31px;color:#666a75;letter-spacing:1.42px;-webkit-text-stroke:.55px;">Self-service</div>
<div class="t" style="left:35.8px;top:984.5px;font-size:24.21px;line-height:31px;color:#666a75;letter-spacing:0.89px;-webkit-text-stroke:.55px;">Legacy</div>
<div class="t" style="left:35.8px;top:1200.0px;font-size:24.21px;line-height:31px;color:#666a75;letter-spacing:1.08px;-webkit-text-stroke:.55px;">External</div>
<div class="t" style="left:162.6px;top:1605.0px;font-size:27.60px;line-height:36px;color:#1c1b22;letter-spacing:1.25px;-webkit-text-stroke:.55px;">Setup guide</div>
<div class="t" style="left:51.1px;top:1712.3px;font-size:24.31px;line-height:32px;font-weight:700;color:#fff;letter-spacing:-1.41px;">SL</div>
<div class="t" style="left:32.7px;top:1827.1px;font-size:26.78px;line-height:35px;font-weight:700;color:#1c1b22;letter-spacing:-0.35px;">Trial ends in 7 days</div>
<div class="t" style="left:358.8px;top:1827.2px;font-size:26.37px;line-height:34px;color:#fff;letter-spacing:0.76px;-webkit-text-stroke:.55px;">Buy now</div>
<div class="t" style="left:550.3px;top:1826.9px;font-size:26.78px;line-height:35px;color:#1c1b22;letter-spacing:0.52px;-webkit-text-stroke:.55px;">Ask us a question</div>
<div class="t" style="left:812.0px;top:1826.9px;font-size:26.78px;line-height:35px;color:#1c1b22;letter-spacing:0.71px;-webkit-text-stroke:.55px;">Download Front for desktop</div>
<div class="t" style="left:645.8px;top:82.2px;font-size:47.90px;line-height:62px;font-weight:700;color:#15141c;letter-spacing:-0.04px;">Workload</div>
<div class="t" style="left:893.5px;top:99.5px;font-size:28.84px;line-height:37px;color:#7c7e88;letter-spacing:0.30px;-webkit-text-stroke:.25px;">Data from up to 1 hour ago</div>
<div class="t" style="left:668.4px;top:204.3px;font-size:28.84px;line-height:37px;font-weight:700;color:#61646f;letter-spacing:-0.25px;">Workload Dashboard</div>
<div class="t" style="left:1016.0px;top:204.3px;font-size:28.84px;line-height:37px;font-weight:700;color:#1c1b22;letter-spacing:-0.10px;">New View (1)</div>
<div class="t" style="left:2670.2px;top:93.3px;font-size:28.43px;line-height:37px;color:#1c1b22;letter-spacing:0.81px;-webkit-text-stroke:.55px;">All views</div>
<div class="t" style="left:762.7px;top:311.4px;font-size:29.87px;line-height:39px;color:#45464f;letter-spacing:0.26px;-webkit-text-stroke:.25px;">Jul 28, 2025</div>
<div class="t" style="left:1000.7px;top:311.4px;font-size:29.87px;line-height:39px;color:#45464f;letter-spacing:0.16px;-webkit-text-stroke:.25px;">Aug 3, 2025</div>
<div class="t" style="left:1359.0px;top:311.4px;font-size:29.87px;line-height:39px;color:#45464f;letter-spacing:0.33px;-webkit-text-stroke:.25px;">All workspaces</div>
<div class="t" style="left:1707.0px;top:311.4px;font-size:29.87px;line-height:39px;color:#45464f;-webkit-text-stroke:.25px;">All shared inboxes</div>
<div class="t" style="left:2096.0px;top:311.4px;font-size:29.87px;line-height:39px;color:#45464f;letter-spacing:-0.05px;-webkit-text-stroke:.25px;">All teammates</div>
<div class="t" style="left:2590.5px;top:311.5px;font-size:29.87px;line-height:39px;color:#fff;letter-spacing:-0.20px;-webkit-text-stroke:.55px;">Save as new view</div>
<div class="t" style="left:662.8px;top:385.1px;font-size:28.84px;line-height:37px;color:#5a4fec;letter-spacing:0.03px;-webkit-text-stroke:.55px;">More filters</div>
<div class="t" style="left:676.0px;top:556.0px;font-size:32.96px;line-height:43px;font-weight:700;color:#15141c;letter-spacing:-0.22px;">Key metrics</div>
<div class="t" style="left:974.0px;top:559.5px;font-size:27.81px;line-height:36px;color:#1c1b22;letter-spacing:-0.03px;-webkit-text-stroke:.25px;">New conversations, <b>+2</b></div>
<div class="t" style="left:676.5px;top:649.5px;font-size:28.84px;line-height:37px;color:#4a4d57;letter-spacing:0.49px;-webkit-text-stroke:.25px;">New conversations</div>
<div class="t" style="left:676.7px;top:687.3px;font-size:65.92px;line-height:86px;font-weight:700;color:#15141c;letter-spacing:0.75px;">224</div>
<div class="t" style="left:1247.7px;top:733.5px;font-size:28.84px;line-height:37px;color:#1e8896;letter-spacing:0.70px;-webkit-text-stroke:.25px;">+224</div>
<div class="t" style="left:676.5px;top:817.5px;font-size:28.84px;line-height:37px;color:#4a4d57;letter-spacing:0.25px;-webkit-text-stroke:.25px;">Reply time (avg)</div>
<div class="t" style="left:676.7px;top:855.0px;font-size:65.92px;line-height:86px;font-weight:700;color:#15141c;letter-spacing:-2.93px;">7m 4s</div>
<div class="t" style="left:1219.7px;top:901.5px;font-size:28.84px;line-height:37px;color:#1e8896;letter-spacing:0.02px;-webkit-text-stroke:.25px;">+7m 4s</div>
<div class="t" style="left:676.5px;top:985.5px;font-size:28.84px;line-height:37px;color:#4a4d57;letter-spacing:0.42px;-webkit-text-stroke:.25px;">First reply time (avg)</div>
<div class="t" style="left:676.7px;top:1023.0px;font-size:65.92px;line-height:86px;font-weight:700;color:#15141c;letter-spacing:-2.93px;">7m 4s</div>
<div class="t" style="left:1219.7px;top:1069.5px;font-size:28.84px;line-height:37px;color:#1e8896;letter-spacing:0.02px;-webkit-text-stroke:.25px;">+7m 4s</div>
<div class="t" style="left:1428.6px;top:556.1px;font-size:32.96px;line-height:43px;font-weight:700;color:#15141c;letter-spacing:-0.26px;">Workload over time</div>
<div class="t" style="left:2248.2px;top:559.5px;font-size:27.81px;line-height:36px;color:#1c1b22;letter-spacing:0.04px;-webkit-text-stroke:.25px;">New conversations</div>
<div class="t" style="left:2583.5px;top:559.5px;font-size:27.81px;line-height:36px;color:#7c7e88;letter-spacing:-0.31px;-webkit-text-stroke:.25px;">Compare</div>
<div class="t" style="left:1444.9px;top:629.0px;font-size:24.21px;line-height:31px;color:#61646f;letter-spacing:0.36px;-webkit-text-stroke:.25px;">50</div>
<div class="t" style="left:1444.9px;top:696.6px;font-size:24.21px;line-height:31px;color:#61646f;letter-spacing:0.36px;-webkit-text-stroke:.25px;">40</div>
<div class="t" style="left:1444.9px;top:764.1px;font-size:24.21px;line-height:31px;color:#61646f;letter-spacing:0.36px;-webkit-text-stroke:.25px;">30</div>
<div class="t" style="left:1444.9px;top:831.7px;font-size:24.21px;line-height:31px;color:#61646f;letter-spacing:0.36px;-webkit-text-stroke:.25px;">20</div>
<div class="t" style="left:1444.9px;top:899.2px;font-size:24.21px;line-height:31px;color:#61646f;letter-spacing:0.36px;-webkit-text-stroke:.25px;">10</div>
<div class="t" style="left:1458.7px;top:966.8px;font-size:24.21px;line-height:31px;color:#61646f;-webkit-text-stroke:.25px;">0</div>
<div class="t" style="left:1462.5px;top:997.7px;font-size:24.21px;line-height:31px;color:#61646f;letter-spacing:0.89px;-webkit-text-stroke:.25px;">Mon, Jul 28</div>
<div class="t" style="left:1672.2px;top:997.7px;font-size:24.21px;line-height:31px;color:#61646f;letter-spacing:0.62px;-webkit-text-stroke:.25px;">Tue, Jul 29</div>
<div class="t" style="left:1872.3px;top:997.7px;font-size:24.21px;line-height:31px;color:#61646f;letter-spacing:0.70px;-webkit-text-stroke:.25px;">Wed, Jul 30</div>
<div class="t" style="left:2083.0px;top:997.7px;font-size:24.21px;line-height:31px;color:#61646f;letter-spacing:0.28px;-webkit-text-stroke:.25px;">Thu, Jul 31</div>
<div class="t" style="left:2295.8px;top:997.7px;font-size:24.21px;line-height:31px;color:#61646f;letter-spacing:0.07px;-webkit-text-stroke:.25px;">Fri, Aug 1</div>
<div class="t" style="left:2494.6px;top:997.7px;font-size:24.21px;line-height:31px;color:#61646f;letter-spacing:0.48px;-webkit-text-stroke:.25px;">Sat, Aug 2</div>
<div class="t" style="left:2696.0px;top:997.7px;font-size:24.21px;line-height:31px;color:#61646f;letter-spacing:0.49px;-webkit-text-stroke:.25px;">Sun, Aug 3</div>
<div class="t" style="left:1469.2px;top:1062.2px;font-size:24.21px;line-height:31px;color:#61646f;letter-spacing:0.70px;-webkit-text-stroke:.25px;">New conversations</div>
<div class="t" style="left:676.0px;top:1203.9px;font-size:32.96px;line-height:43px;font-weight:700;color:#15141c;letter-spacing:-0.37px;">Busiest times</div>
<div class="t" style="left:1268.5px;top:1207.5px;font-size:27.81px;line-height:36px;color:#1c1b22;letter-spacing:0.04px;-webkit-text-stroke:.25px;">New conversations</div>
<div class="t" style="left:808.3px;top:1276.1px;font-size:24.21px;line-height:31px;color:#61646f;letter-spacing:0.36px;-webkit-text-stroke:.25px;">Mon</div>
<div class="t" style="left:943.8px;top:1276.1px;font-size:24.21px;line-height:31px;color:#61646f;letter-spacing:0.36px;-webkit-text-stroke:.25px;">Tue</div>
<div class="t" style="left:1072.4px;top:1276.1px;font-size:24.21px;line-height:31px;color:#61646f;letter-spacing:0.36px;-webkit-text-stroke:.25px;">Wed</div>
<div class="t" style="left:1208.6px;top:1276.1px;font-size:24.21px;line-height:31px;color:#61646f;letter-spacing:0.36px;-webkit-text-stroke:.25px;">Thu</div>
<div class="t" style="left:1347.1px;top:1276.1px;font-size:24.21px;line-height:31px;color:#61646f;letter-spacing:0.36px;-webkit-text-stroke:.25px;">Fri</div>
<div class="t" style="left:1474.6px;top:1276.1px;font-size:24.21px;line-height:31px;color:#61646f;letter-spacing:0.36px;-webkit-text-stroke:.25px;">Sat</div>
<div class="t" style="left:1604.4px;top:1276.1px;font-size:24.21px;line-height:31px;color:#61646f;letter-spacing:0.36px;-webkit-text-stroke:.25px;">Sun</div>
<div class="t" style="left:689.8px;top:1309.5px;font-size:24.21px;line-height:31px;color:#61646f;letter-spacing:1.19px;-webkit-text-stroke:.25px;">9 AM</div>
<div class="t" style="left:679.2px;top:1350.9px;font-size:24.21px;line-height:31px;color:#61646f;letter-spacing:0.18px;-webkit-text-stroke:.25px;">10 AM</div>
<div class="t" style="left:684.3px;top:1392.2px;font-size:24.21px;line-height:31px;color:#61646f;letter-spacing:-0.65px;-webkit-text-stroke:.25px;">11 AM</div>
<div class="t" style="left:680.6px;top:1433.6px;font-size:24.21px;line-height:31px;color:#61646f;letter-spacing:-0.17px;-webkit-text-stroke:.25px;">12 PM</div>
<div class="t" style="left:695.4px;top:1474.9px;font-size:24.21px;line-height:31px;color:#61646f;letter-spacing:-0.68px;-webkit-text-stroke:.25px;">1 PM</div>
<div class="t" style="left:690.8px;top:1516.3px;font-size:24.21px;line-height:31px;color:#61646f;letter-spacing:0.86px;-webkit-text-stroke:.25px;">2 PM</div>
<div class="t" style="left:691.8px;top:1557.7px;font-size:24.21px;line-height:31px;color:#61646f;letter-spacing:0.52px;-webkit-text-stroke:.25px;">3 PM</div>
<div class="t" style="left:690.8px;top:1599.0px;font-size:24.21px;line-height:31px;color:#61646f;letter-spacing:0.86px;-webkit-text-stroke:.25px;">4 PM</div>
<div class="t" style="left:691.8px;top:1640.4px;font-size:24.21px;line-height:31px;color:#61646f;letter-spacing:0.52px;-webkit-text-stroke:.25px;">5 PM</div>
<div class="t" style="left:735.7px;top:1711.4px;font-size:24.21px;line-height:31px;color:#61646f;-webkit-text-stroke:.25px;">0</div>
<div class="t" style="left:1070.5px;top:1711.4px;font-size:24.21px;line-height:31px;color:#61646f;-webkit-text-stroke:.25px;">8</div>
<div class="t" style="left:1804.0px;top:1204.5px;font-size:32.96px;line-height:43px;font-weight:700;color:#15141c;letter-spacing:-0.15px;">Efficiency</div>
<div class="t" style="left:2566.0px;top:1207.5px;font-size:27.81px;line-height:36px;color:#1c1b22;letter-spacing:-0.20px;-webkit-text-stroke:.25px;">Reply time</div>
<div class="t" style="left:1940.0px;top:1434.2px;font-size:24.72px;line-height:32px;color:#61646f;letter-spacing:0.49px;-webkit-text-stroke:.55px;">Reply time (avg)</div>
<div class="t" style="left:1965.5px;top:1477.5px;font-size:49.44px;line-height:64px;font-weight:700;color:#3b3d4a;letter-spacing:-0.92px;">7m 4s</div>
<div class="t" style="left:1986.0px;top:1593.8px;font-size:28.84px;line-height:37px;color:#1e8896;letter-spacing:0.02px;-webkit-text-stroke:.25px;">+7m 4s</div>
<div class="t" style="left:1836.8px;top:1399.8px;font-size:21.63px;line-height:28px;font-weight:700;color:#5a4fec;letter-spacing:0.42px;">33%</div>
<div class="t" style="left:2185.7px;top:1599.7px;font-size:21.63px;line-height:28px;font-weight:700;color:#5a4fec;letter-spacing:0.42px;">67%</div>
<div class="t" style="left:2359.9px;top:1305.7px;font-size:28.84px;line-height:37px;color:#2f3140;letter-spacing:0.08px;-webkit-text-stroke:.25px;">Less than 15min</div>
<div class="t" style="left:2727.8px;top:1305.7px;font-size:28.84px;line-height:37px;color:#4a4d57;letter-spacing:0.43px;-webkit-text-stroke:.25px;">67%</div>
<div class="t" style="left:2359.9px;top:1385.7px;font-size:28.84px;line-height:37px;color:#2f3140;letter-spacing:0.45px;-webkit-text-stroke:.25px;">15min - 45min</div>
<div class="t" style="left:2727.8px;top:1385.7px;font-size:28.84px;line-height:37px;color:#4a4d57;letter-spacing:0.43px;-webkit-text-stroke:.25px;">33%</div>
<div class="t" style="left:2359.9px;top:1465.7px;font-size:28.84px;line-height:37px;color:#2f3140;letter-spacing:0.20px;-webkit-text-stroke:.25px;">45min - 1h</div>
<div class="t" style="left:2744.2px;top:1465.7px;font-size:28.84px;line-height:37px;color:#4a4d57;letter-spacing:0.43px;-webkit-text-stroke:.25px;">0%</div>
<div class="t" style="left:2359.9px;top:1545.7px;font-size:28.84px;line-height:37px;color:#2f3140;letter-spacing:0.30px;-webkit-text-stroke:.25px;">1h - 2h</div>
<div class="t" style="left:2744.2px;top:1545.7px;font-size:28.84px;line-height:37px;color:#4a4d57;letter-spacing:0.43px;-webkit-text-stroke:.25px;">0%</div>
<div class="t" style="left:2359.9px;top:1625.7px;font-size:28.84px;line-height:37px;color:#2f3140;letter-spacing:0.65px;-webkit-text-stroke:.25px;">More than 2h</div>
<div class="t" style="left:2744.2px;top:1625.7px;font-size:28.84px;line-height:37px;color:#4a4d57;letter-spacing:0.43px;-webkit-text-stroke:.25px;">0%</div>
</div>
</body></html>
